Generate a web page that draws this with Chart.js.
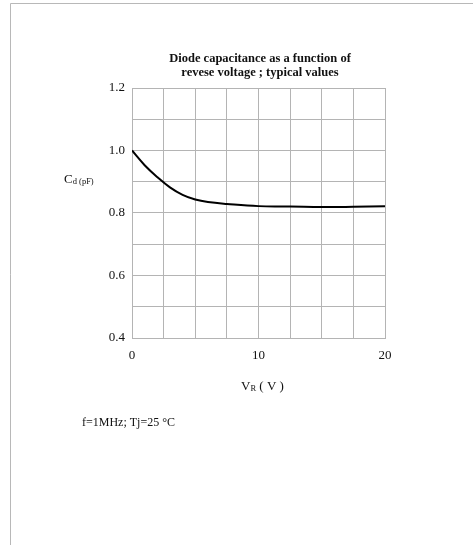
<!DOCTYPE html>
<html>
<head>
<meta charset="utf-8">
<script src="https://cdn.jsdelivr.net/npm/chart.js@4/dist/chart.umd.min.js"></script>
<style>
  html, body { margin: 0; padding: 0; background: #fff; }
  #wrap { width: 473px; height: 545px; position: relative; }
</style>
</head>
<body>
<div id="wrap"><canvas id="chart"></canvas></div>
<script>
// tensão reversa (V) e capacitância (pF)
const vr = [0, 1, 2, 3, 4, 5, 6, 7.5, 10, 12.5, 15, 17.5, 20];
const cd = [1.0, 0.953, 0.915, 0.882, 0.858, 0.843, 0.835, 0.829, 0.822, 0.821, 0.819, 0.820, 0.822];
const xTickLabels = [0, 10, 20];
const yTickLabels = [0.4, 0.6, 0.8, 1.0, 1.2];
const titleLines = ['Diode capacitance as a function of', 'revese voltage ; typical values'];
const noteText = 'f=1MHz; Tj=25 \u00B0C';

const serif = '"Liberation Serif", "Times New Roman", serif';
const gridColor = '#b4b4b4';

// desenha moldura, título e textos soltos
const textPlugin = {
    id: 'textos',
    beforeDraw(chart) {
        const c = chart.ctx;
        c.save();
        c.fillStyle = '#fff';
        c.fillRect(0, 0, chart.width, chart.height);
        c.strokeStyle = '#b8b8b8';
        c.lineWidth = 1;
        c.beginPath();
        c.moveTo(10.5, 545);
        c.lineTo(10.5, 3.5);
        c.lineTo(473, 3.5);
        c.stroke();
        c.restore();
    },
    afterDraw(chart) {
        const c = chart.ctx;
        c.save();
        c.fillStyle = '#111';
        c.textBaseline = 'middle';
        c.textAlign = 'center';
        c.font = 'bold 12.5px ' + serif;
        c.fillText(titleLines[0], 260, 59);
        c.fillText(titleLines[1], 260, 73);

        // C d (pF)
        c.textAlign = 'left';
        c.font = '13px ' + serif;
        c.fillText('C', 64, 180);
        let w = c.measureText('C').width;
        c.font = '8.5px ' + serif;
        c.fillText('d (pF)', 64 + w, 182);

        // V R ( V )
        c.font = '13px ' + serif;
        c.fillText('V', 241, 387);
        w = c.measureText('V').width;
        c.font = '8.5px ' + serif;
        c.fillText('R', 241 + w, 389);
        const w2 = c.measureText('R').width;
        c.font = '13px ' + serif;
        c.fillText(' ( V )', 241 + w + w2, 387);

        c.font = '12px ' + serif;
        c.fillText(noteText, 82, 423);
        c.restore();
    }
};

const ctx = document.getElementById('chart').getContext('2d');
new Chart(ctx, {
    type: 'line',
    data: {
        datasets: [{
            data: vr.map((v, i) => ({ x: v, y: cd[i] })),
            borderColor: '#000',
            borderWidth: 2,
            pointRadius: 0,
            tension: 0.4,
            fill: false
        }]
    },
    options: {
        responsive: true,
        maintainAspectRatio: false,
        animation: false,
        devicePixelRatio: 1,
        layout: { padding: { top: 88, right: 88, left: 0, bottom: 0 } },
        plugins: { legend: { display: false }, tooltip: { enabled: false }, title: { display: false } },
        scales: {
            x: {
                type: 'linear',
                min: 0,
                max: 20,
                afterFit: s => { s.height = 207; },
                border: { color: gridColor, width: 1 },
                grid: { color: gridColor, lineWidth: 1, drawTicks: false },
                ticks: {
                    stepSize: 2.5,
                    padding: 10,
                    color: '#111',
                    font: { family: serif, size: 13 },
                    maxRotation: 0,
                    autoSkip: false,
                    callback: v => xTickLabels.includes(v) ? String(v) : ''
                }
            },
            y: {
                min: 0.4,
                max: 1.2,
                afterFit: s => { s.width = 132; },
                border: { color: gridColor, width: 1 },
                grid: { color: gridColor, lineWidth: 1, drawTicks: false },
                ticks: {
                    stepSize: 0.1,
                    padding: 7,
                    color: '#111',
                    font: { family: serif, size: 13 },
                    autoSkip: false,
                    callback: v => {
                        const r = Math.round(v * 10) / 10;
                        return yTickLabels.some(t => Math.abs(t - r) < 1e-6) ? r.toFixed(1) : '';
                    }
                }
            }
        }
    },
    plugins: [textPlugin]
});
</script>
</body>
</html>
